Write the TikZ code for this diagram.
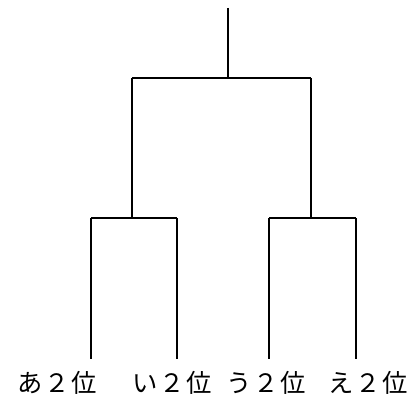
\documentclass[tikz,border=0pt]{standalone}
\usepackage{fontspec}
\newfontfamily\jpfont{Noto Sans CJK JP}
\usetikzlibrary{positioning}

\tikzset{
  bracket/.style={line width=1.1pt, black},
  rank/.style={font=\jpfont\fontsize{19pt}{20pt}\selectfont, inner sep=0pt, anchor=center}
}
\newcommand{\gap}{\hspace{1.5pt}}

\begin{document}
\begin{tikzpicture}[x=0.75pt, y=-0.75pt]
\useasboundingbox (0,0) rectangle (420,403);

% Junctions of the bracket
\coordinate (top)    at (228,8);
\coordinate (final)  at (228,78);
\coordinate (semiL)  at (132,78);
\coordinate (semiR)  at (311,78);
\coordinate (semiLb) at (132,218);
\coordinate (semiRb) at (311,218);
\coordinate (leafAt) at (91,218);
\coordinate (leafBt) at (177,218);
\coordinate (leafCt) at (269,218);
\coordinate (leafDt) at (356,218);
\coordinate (leafA)  at (91,359);
\coordinate (leafB)  at (177,359);
\coordinate (leafC)  at (269,359);
\coordinate (leafD)  at (356,359);

% Final
\draw[bracket] (top) -- (final);
\draw[bracket] (semiL) -- (semiR);

% Semifinals
\draw[bracket] (semiL) -- (semiLb);
\draw[bracket] (semiR) -- (semiRb);
\draw[bracket] (leafAt) -- (leafBt);
\draw[bracket] (leafCt) -- (leafDt);

% First round
\draw[bracket] (leafAt) -- (leafA);
\draw[bracket] (leafBt) -- (leafB);
\draw[bracket] (leafCt) -- (leafC);
\draw[bracket] (leafDt) -- (leafD);

% Labels
\node[rank] (rankA) at (57,383)  {あ\gap ２\gap 位};
\node[rank] (rankB) at (172,383) {い\gap ２\gap 位};
\node[rank] (rankC) at (266,383) {う\gap ２\gap 位};
\node[rank] (rankD) at (368,383) {え\gap ２\gap 位};
\end{tikzpicture}
\end{document}
